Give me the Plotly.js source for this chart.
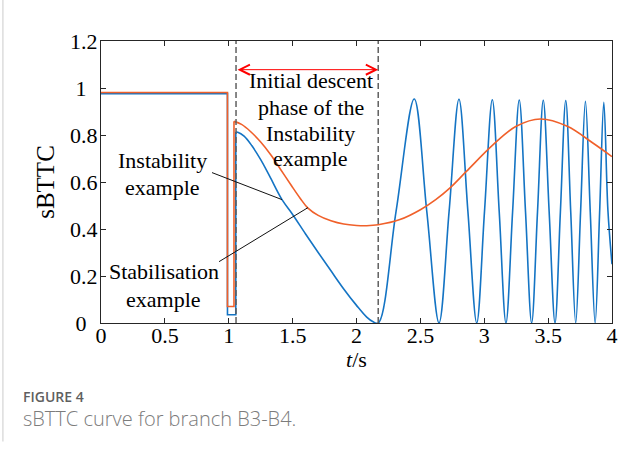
<!DOCTYPE html>
<html>
<head>
<meta charset="utf-8">
<script src="https://cdn.plot.ly/plotly-3.0.1.min.js"></script>
<style>
  html, body { margin: 0; padding: 0; background: #ffffff; }
  #chart { width: 639px; height: 454px; }
</style>
</head>
<body>
<div id="chart"></div>
<script>
// ---- sBTTC of branch B3-B4, two operating examples ----

// Instability example: pre-fault level, fault dip, then post-fault trajectory
const instStepT = [0, 0.99, 0.99, 1.055, 1.055];
const instStepV = [0.976, 0.976, 0.035, 0.035, 0.813];
const instT = [1.055, 1.07, 1.12, 1.18, 1.25, 1.32, 1.417, 1.50, 1.60, 1.70, 1.80, 1.90, 2.00, 2.08, 2.13, 2.171,
               2.31, 2.452, 2.55, 2.646, 2.725, 2.802, 2.872, 2.941, 3.002, 3.063, 3.117, 3.170, 3.222, 3.274,
               3.323, 3.371, 3.417, 3.462, 3.508, 3.554, 3.596, 3.638, 3.677, 3.716, 3.754, 3.792, 3.830,
               3.868, 3.903, 3.936, 3.968, 4.0];
const instV = [0.813, 0.812, 0.795, 0.755, 0.695, 0.625, 0.525, 0.462, 0.380, 0.300, 0.222, 0.145, 0.075, 0.025, 0.005, 0.0,
               0.476, 0.953, 0.476, 0.0, 0.476, 0.952, 0.475, 0.0, 0.475, 0.950, 0.475, 0.0, 0.474, 0.949,
               0.474, 0.0, 0.474, 0.948, 0.474, 0.0, 0.473, 0.947, 0.472, 0.0, 0.471, 0.943, 0.470,
               0.0, 0.469, 0.939, 0.48, 0.25];

// Stabilisation example
const stabStepT = [0, 0.99, 0.99, 1.041, 1.041];
const stabStepV = [0.981, 0.981, 0.07, 0.07, 0.858];
const stabT = [1.041, 1.10, 1.17, 1.25, 1.33, 1.41, 1.49, 1.56, 1.62, 1.70, 1.80, 1.90, 2.00, 2.08, 2.17,
               2.34, 2.50, 2.62, 2.73, 2.86, 3.07, 3.25, 3.44, 3.65, 3.85, 4.0];
const stabV = [0.858, 0.845, 0.815, 0.770, 0.715, 0.650, 0.585, 0.530, 0.489, 0.458, 0.435, 0.421, 0.415, 0.414, 0.418,
               0.440, 0.482, 0.525, 0.574, 0.645, 0.759, 0.837, 0.868, 0.837, 0.766, 0.708];

// Axis ticks (single-digit y labels padded so that all labels sit on a common centre)
const xTicks = [0, 0.5, 1, 1.5, 2, 2.5, 3, 3.5, 4];
const xTickText = ['0', '0.5', '1', '1.5', '2', '2.5', '3', '3.5', '4'];
const yTicks = [0, 0.2, 0.4, 0.6, 0.8, 1, 1.2];
const yTickText = ['0\u00a0\u00a0', '0.2', '0.4', '0.6', '0.8', '1\u00a0\u00a0', '1.2'];

// Bounds of the initial descent phase (t in s) and height of its span arrow
const descentPhase = [1.057, 2.17];
const spanArrowY = 1.078;

// Leader lines: [x0, y0, x1, y1] from each label to its curve
const instLeader = [0.869, 0.640, 1.417, 0.525];
const stabLeader = [0.924, 0.261, 1.620, 0.491];

// In-plot labels, one entry per text line: [text, x, y]
const phaseLabel = [['Initial descent', 1.64, 1.033], ['phase of the', 1.64, 0.916],
                    ['Instability', 1.64, 0.808], ['example', 1.64, 0.702]];
const instLabel = [['Instability', 0.481, 0.691], ['example', 0.481, 0.576]];
const stabLabel = [['Stabilisation', 0.493, 0.218], ['example', 0.493, 0.099]];

const BLUE = '#1474c4';
const ORANGE = '#f0602a';
const SERIF = '"Liberation Serif", "Times New Roman", serif';
const SANS = '"Open Sans", Lato, sans-serif';

const lineStyle = (c, shape) => ({ color: c, width: 1.6, shape: shape });

const traces = [
  { x: instStepT, y: instStepV, mode: 'lines', line: lineStyle(BLUE, 'linear'), hoverinfo: 'skip' },
  { x: instT, y: instV, mode: 'lines', line: lineStyle(BLUE, 'spline'), hoverinfo: 'skip' },
  { x: stabStepT, y: stabStepV, mode: 'lines', line: lineStyle(ORANGE, 'linear'), hoverinfo: 'skip' },
  { x: stabT, y: stabV, mode: 'lines', line: lineStyle(ORANGE, 'spline'), hoverinfo: 'skip' }
];

const dashed = t => ({
  type: 'line', xref: 'x', yref: 'y', x0: t, x1: t, y0: 0, y1: 1.2,
  line: { color: '#606060', width: 1.5, dash: '6px,3px' }
});
const leader = a => ({
  type: 'line', xref: 'x', yref: 'y', x0: a[0], y0: a[1], x1: a[2], y1: a[3],
  line: { color: '#111111', width: 1 }
});
const textLine = ([t, x, y]) => ({
  x: x, y: y, xref: 'x', yref: 'y', showarrow: false, xanchor: 'center', yanchor: 'middle',
  text: t, font: { family: SERIF, size: 22, color: '#000' }
});

const tickFont = { family: SERIF, size: 22, color: '#000' };

const layout = {
  width: 639, height: 454,
  margin: { l: 101, r: 27, t: 41, b: 131 },
  paper_bgcolor: '#ffffff', plot_bgcolor: '#ffffff',
  showlegend: false,
  font: { family: SERIF, color: '#000000', size: 21 },
  xaxis: {
    range: [0, 4], tickvals: xTicks, ticktext: xTickText,
    ticks: 'inside', ticklen: 5, tickwidth: 1, tickcolor: '#262626',
    showline: true, linecolor: '#262626', linewidth: 1, mirror: 'ticks',
    showgrid: false, zeroline: false, ticklabelstandoff: -7,
    tickfont: tickFont
  },
  yaxis: {
    range: [0, 1.2], tickvals: yTicks, ticktext: yTickText,
    ticks: 'inside', ticklen: 5, tickwidth: 1, tickcolor: '#262626',
    showline: true, linecolor: '#262626', linewidth: 1, mirror: 'ticks',
    showgrid: false, zeroline: false, ticklabelstandoff: -2,
    tickfont: tickFont,
    title: { text: 'sBTTC', font: { family: SERIF, size: 25, color: '#000' }, standoff: 8 }
  },
  shapes: [
    dashed(descentPhase[0]), dashed(descentPhase[1]),
    leader(instLeader), leader(stabLeader),
    // outer frame edge on the left of the figure panel
    { type: 'line', xref: 'paper', yref: 'paper', x0: -0.192, x1: -0.192, y0: 1.146, y1: -0.42,
      line: { color: '#dddddd', width: 1.5 } }
  ],
  annotations: [
    // x-axis title
    { x: 0.5, y: -0.1294, xref: 'paper', yref: 'paper', showarrow: false, yanchor: 'middle',
      text: '<i>t</i>/s', font: { family: SERIF, size: 22 } },
    // span of the initial descent phase
    { x: descentPhase[1], y: spanArrowY, ax: descentPhase[0], ay: spanArrowY, axref: 'x', ayref: 'y',
      xref: 'x', yref: 'y', text: '', showarrow: true, arrowside: 'end+start',
      arrowhead: 5, startarrowhead: 5, arrowsize: 2, startarrowsize: 2, arrowwidth: 1, arrowcolor: '#ff0000',
      standoff: 0, startstandoff: 0 },
    ...phaseLabel.map(textLine),
    ...instLabel.map(textLine),
    ...stabLabel.map(textLine),
    // figure caption
    { x: -0.1566, y: -0.2624, xref: 'paper', yref: 'paper', xanchor: 'left', yanchor: 'middle',
      showarrow: false, text: 'FIGURE 4',
      font: { family: SANS, size: 14, color: '#5f5f5f', weight: 600 } },
    { x: -0.1566, y: -0.3369, xref: 'paper', yref: 'paper', xanchor: 'left', yanchor: 'middle',
      showarrow: false, text: 'sBTTC curve for branch B3-B4.',
      font: { family: SANS, size: 20, color: '#7c7c7c', weight: 300 } }
  ]
};

Plotly.newPlot('chart', traces, layout, { staticPlot: true, displayModeBar: false });
</script>
</body>
</html>
